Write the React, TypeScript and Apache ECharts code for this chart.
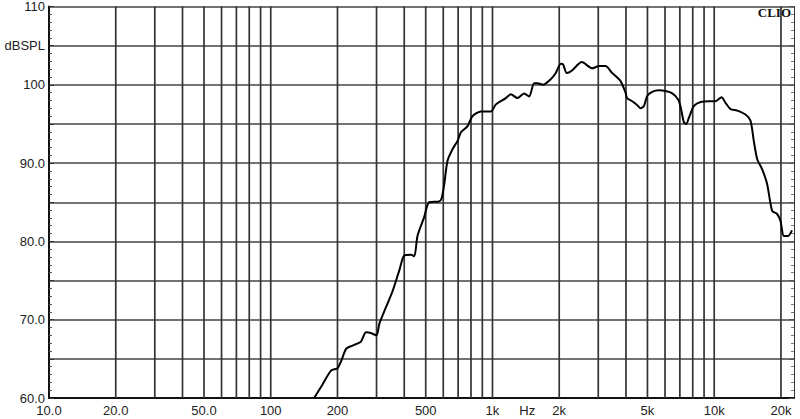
import React, { useEffect, useRef } from "react";
import * as echarts from "echarts";

// Frequency response (Hz) and SPL (dB)
const freqs = [157, 171, 187, 200, 207, 219, 234, 255, 269, 283, 300, 309, 331, 355, 380, 400, 429, 444, 459, 492, 518, 575, 590, 606, 627, 661, 695, 720, 771, 813, 887, 984, 1036, 1149, 1210, 1296, 1389, 1463, 1541, 1597, 1690, 1831, 1929, 2032, 2083, 2162, 2278, 2529, 2818, 3020, 3236, 3467, 3776, 3981, 4046, 4266, 4498, 4656, 4822, 4990, 5254, 5630, 6035, 6471, 6888, 7063, 7300, 7482, 7690, 8106, 8683, 9465, 10140, 10790, 11250, 11850, 12700, 13840, 14580, 15090, 15630, 16460, 17330, 18250, 19220, 19900, 20600, 21540, 22430];
const spl = [60.0, 61.7, 63.5, 63.8, 64.6, 66.3, 66.7, 67.2, 68.4, 68.3, 68.0, 69.5, 71.6, 73.7, 76.3, 78.2, 78.3, 78.1, 80.7, 83.1, 85.0, 85.1, 85.5, 87.3, 90.3, 91.8, 92.8, 93.9, 94.7, 96.0, 96.6, 96.6, 97.5, 98.3, 98.8, 98.3, 98.9, 98.5, 100.2, 100.2, 100.0, 100.7, 101.5, 102.7, 102.6, 101.5, 101.8, 102.9, 102.1, 102.4, 102.4, 101.5, 100.5, 99.0, 98.3, 97.9, 97.4, 97.0, 97.3, 98.6, 99.1, 99.3, 99.2, 98.9, 98.1, 97.1, 95.2, 95.0, 95.8, 97.3, 97.8, 97.9, 97.9, 98.4, 97.7, 96.9, 96.7, 96.2, 95.4, 92.8, 90.5, 89.2, 87.3, 83.9, 83.5, 82.6, 80.7, 80.7, 81.4];

// Axis ranges and ticks
const xMinFreq = 10;
const xMaxFreq = 22900;
const xGridFreqs = [20, 30, 40, 50, 60, 70, 80, 90, 100, 200, 300, 400, 500, 600, 700, 800, 900, 1000, 2000, 3000, 4000, 5000, 6000, 7000, 8000, 9000, 10000, 20000];
const xLabelFreqs = [10, 20, 50, 100, 200, 500, 1000, 1435, 2000, 5000, 10000, 20000];
const xLabelTexts = ["10.0", "20.0", "50.0", "100", "200", "500", "1k", "Hz", "2k", "5k", "10k", "20k"];
const yMin = 60;
const yMax = 110;
const yStep = 5;

export default function App() {
  const ref = useRef<HTMLDivElement>(null);
  useEffect(() => {
    if (!ref.current) return;
    const chart = echarts.init(ref.current, undefined, { renderer: "svg" });
    const lg = (f: number) => Math.log10(f);
    const labelLogs = xLabelFreqs.map(lg);
    const curve = freqs.map((f, i) => [lg(f), spl[i]]);
    const gridData: any[] = [];
    xGridFreqs.forEach((f) => {
      gridData.push([lg(f), yMin], [lg(f), yMax], [lg(f), "-"]);
    });
    const yLabel = (v: number) => {
      if (v === 105) return "dBSPL";
      if (v % 10 === 0) return v >= 100 ? String(v) : v.toFixed(1);
      return "";
    };
    chart.setOption({
      animation: false,
      backgroundColor: "#ffffff",
      grid: { left: 49, right: 6, top: 5, bottom: 21 },
      graphic: [
        {
          type: "text",
          right: 9,
          top: 6,
          style: {
            text: "CLIO",
            fontFamily: "Liberation Serif",
            fontWeight: "bold",
            fontSize: 13,
            fill: "#111",
          },
          z: 10,
        },
      ],
      xAxis: {
        type: "value",
        min: lg(xMinFreq),
        max: lg(xMaxFreq),
        axisLine: { show: true, onZero: false, lineStyle: { color: "#111", width: 2 } },
        axisTick: { show: false },
        splitLine: { show: false },
        axisLabel: {
          customValues: labelLogs,
          color: "#222",
          fontFamily: "Liberation Sans",
          fontSize: 13,
          margin: 6,
          formatter: (v: number) => {
            const i = labelLogs.findIndex((l) => Math.abs(l - v) < 1e-6);
            return i >= 0 ? xLabelTexts[i] : "";
          },
        },
      },
      yAxis: [
        {
          type: "value",
          min: yMin,
          max: yMax,
          interval: yStep,
          axisLine: { show: true, lineStyle: { color: "#111", width: 2 } },
          axisTick: { show: true, inside: true, length: 5, lineStyle: { color: "#333" } },
          minorTick: { show: true, splitNumber: 5, length: 3, lineStyle: { color: "#555" } },
          splitLine: { show: true, lineStyle: { color: "#444", width: 1.6 } },
          axisLabel: {
            color: "#222",
            fontFamily: "Liberation Sans",
            fontSize: 13,
            margin: 4,
            formatter: yLabel,
          },
        },
        {
          type: "value",
          position: "right",
          min: yMin,
          max: yMax,
          interval: yStep,
          axisLine: { show: true, lineStyle: { color: "#333", width: 1 } },
          axisTick: { show: true, inside: true, length: 5, lineStyle: { color: "#555" } },
          minorTick: { show: true, splitNumber: 5, length: 3, lineStyle: { color: "#777" } },
          splitLine: { show: false },
          axisLabel: { show: false },
        },
      ],
      series: [
        {
          type: "line",
          data: gridData,
          showSymbol: false,
          silent: true,
          connectNulls: false,
          lineStyle: { color: "#333", width: 1.7 },
          z: 1,
        },
        {
          type: "line",
          data: curve,
          showSymbol: false,
          smooth: 0.25,
          clip: true,
          lineStyle: { color: "#000", width: 2 },
          z: 5,
        },
      ],
    });
    return () => chart.dispose();
  }, []);
  return <div ref={ref} style={{ width: 800, height: 419, position: "absolute", left: 0, top: 0 }} />;
}
